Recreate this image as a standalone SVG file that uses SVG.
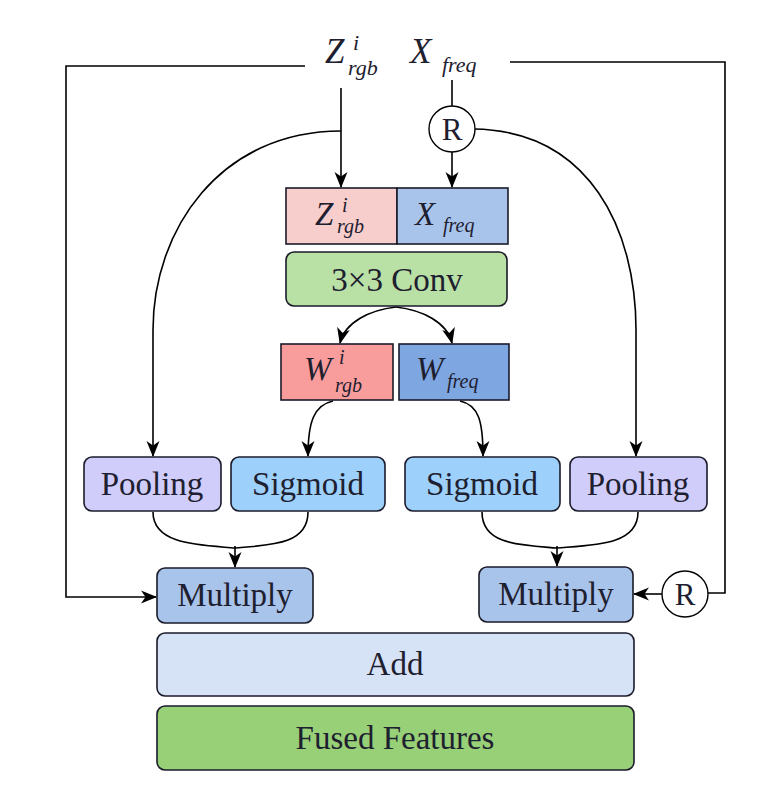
<svg xmlns="http://www.w3.org/2000/svg" width="783" height="794" viewBox="0 0 783 794">
<style>
.box{stroke:#1b1b2b;stroke-width:1.6}
.lbl{font-family:"Liberation Serif","Times New Roman",serif;font-size:33px;fill:#1e2030;text-anchor:middle}
.m{font-family:"Liberation Serif","Times New Roman",serif;font-style:italic;fill:#1e2030}
.big{font-size:35px}
.sm{font-size:22px}
.ln{fill:none;stroke:#000;stroke-width:1.6}
.arr{marker-end:url(#ah)}
</style>
<defs>
<marker id="ah" viewBox="0 0 16 16" refX="15" refY="8" markerWidth="16" markerHeight="16" markerUnits="userSpaceOnUse" orient="auto">
<path d="M0,1.5 L16,8 L0,14.5 L4.5,8 Z" fill="#000"/>
</marker>
</defs>
<rect width="783" height="794" fill="#fff"/>

<g id="connectors">
<path class="ln arr" d="M305,66 L66,66 L66,597 L156,597"/>
<path class="ln" d="M510,62 L725,62 L725,593 L708,593"/>
<path class="ln arr" d="M341,88 L341,187"/>
<path class="ln arr" d="M341,131 C220,131 153,230 153,330 L153,456"/>
<path class="ln" d="M452,80 L452,106"/>
<path class="ln arr" d="M452,152 L452,187"/>
<path class="ln arr" d="M474,129 C590,131 636,230 636,330 L636,456"/>
<path class="ln arr" d="M396,307 C370,310 345,322 340,343"/>
<path class="ln arr" d="M396,307 C422,310 447,322 452,343"/>
<path class="ln arr" d="M333,401 C314,405 308,422 308,456"/>
<path class="ln arr" d="M460,401 C479,405 483,422 483,456"/>
<path class="ln" d="M153,512 C153,545 200,545 235,548"/>
<path class="ln" d="M308,512 C308,545 270,545 235,548"/>
<path class="ln arr" d="M235,546 L235,567"/>
<path class="ln" d="M482,512 C482,545 520,545 557,548"/>
<path class="ln" d="M638,512 C638,545 595,545 557,548"/>
<path class="ln arr" d="M557,546 L557,566"/>
<path class="ln arr" d="M662,594 L634,594"/>
</g>

<g id="label-z">
<text class="m big" x="325" y="63">Z</text>
<text class="m sm" x="353" y="50">i</text>
<text class="m sm" x="348" y="75">rgb</text>
</g>
<g id="label-x">
<text class="m big" x="410" y="63">X</text>
<text class="m sm" x="442" y="72">freq</text>
</g>

<g id="r-top">
<circle cx="452" cy="129" r="23" fill="#fff" stroke="#000" stroke-width="1.4"/>
<text class="lbl" x="452" y="140" style="font-size:31px">R</text>
</g>
<g id="r-bottom">
<circle cx="685" cy="594" r="23" fill="#fff" stroke="#000" stroke-width="1.4"/>
<text class="lbl" x="685" y="605" style="font-size:31px">R</text>
</g>

<g id="concat-z">
<rect class="box" x="286" y="188" width="111" height="56" fill="#f8cecc"/>
<text class="m" x="315" y="225" style="font-size:33px">Z</text>
<text class="m" x="342" y="212" style="font-size:20px">i</text>
<text class="m" x="337" y="233" style="font-size:20px">rgb</text>
</g>
<g id="concat-x">
<rect class="box" x="397" y="188" width="111" height="56" fill="#a9c4eb"/>
<text class="m" x="415" y="225" style="font-size:33px">X</text>
<text class="m" x="443" y="232" style="font-size:20px">freq</text>
</g>

<g id="conv">
<rect class="box" x="286" y="252" width="221" height="54" rx="8" fill="#b9e0a5"/>
<text class="lbl" x="397" y="291">3×3 Conv</text>
</g>

<g id="w-rgb">
<rect class="box" x="281" y="344" width="112" height="56" fill="#f99c9c"/>
<text class="m" x="304" y="380" style="font-size:33px">W</text>
<text class="m" x="339" y="364" style="font-size:20px">i</text>
<text class="m" x="335" y="392" style="font-size:20px">rgb</text>
</g>
<g id="w-freq">
<rect class="box" x="399" y="344" width="110" height="56" fill="#7ea6e0"/>
<text class="m" x="416" y="380" style="font-size:33px">W</text>
<text class="m" x="447" y="388" style="font-size:20px">freq</text>
</g>

<g id="pool-left">
<rect class="box" x="84" y="457" width="137" height="54" rx="8" fill="#d0cdfb"/>
<text class="lbl" x="152" y="495">Pooling</text>
</g>
<g id="sig-left">
<rect class="box" x="231" y="457" width="154" height="54" rx="8" fill="#9dd0fb"/>
<text class="lbl" x="308" y="495">Sigmoid</text>
</g>
<g id="sig-right">
<rect class="box" x="405" y="457" width="155" height="54" rx="8" fill="#9dd0fb"/>
<text class="lbl" x="482" y="495">Sigmoid</text>
</g>
<g id="pool-right">
<rect class="box" x="570" y="457" width="137" height="54" rx="8" fill="#d0cdfb"/>
<text class="lbl" x="638" y="495">Pooling</text>
</g>

<g id="mul-left">
<rect class="box" x="157" y="568" width="156" height="55" rx="8" fill="#a9c4eb"/>
<text class="lbl" x="235" y="606">Multiply</text>
</g>
<g id="mul-right">
<rect class="box" x="479" y="567" width="154" height="55" rx="8" fill="#a9c4eb"/>
<text class="lbl" x="556" y="605">Multiply</text>
</g>

<g id="add">
<rect class="box" x="157" y="633" width="477" height="63" rx="8" fill="#d6e2f5"/>
<text class="lbl" x="395" y="675">Add</text>
</g>
<g id="fused">
<rect class="box" x="157" y="706" width="477" height="64" rx="8" fill="#97d077"/>
<text class="lbl" x="395" y="749">Fused Features</text>
</g>
</svg>
